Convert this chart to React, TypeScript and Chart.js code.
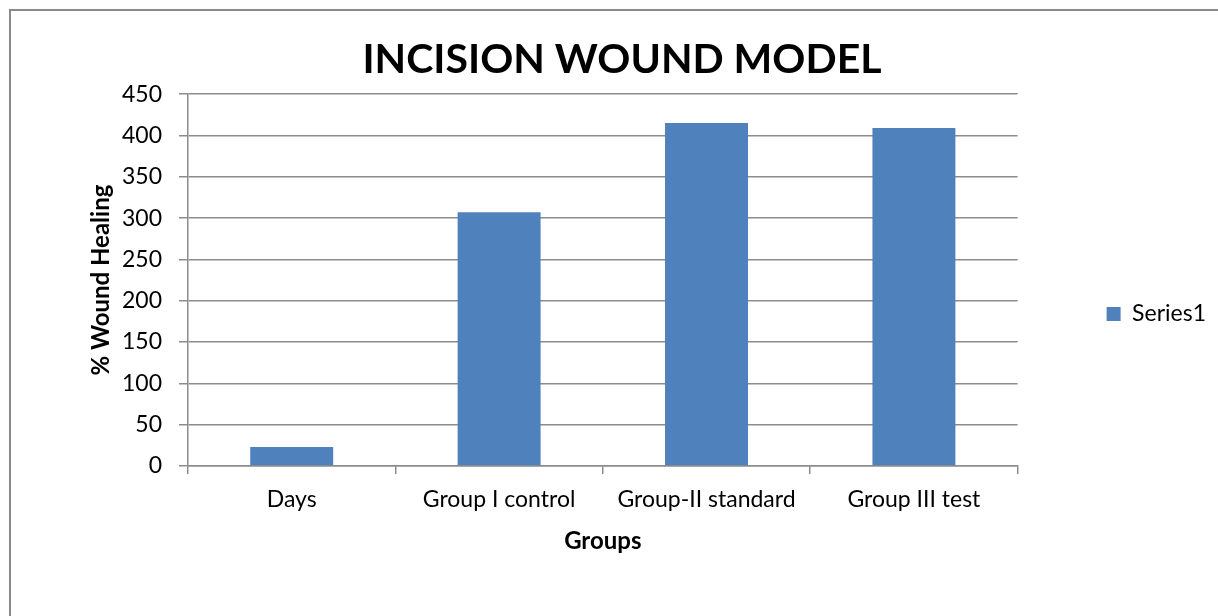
import React, { useEffect, useRef } from "react";
import { Chart, registerables } from "chart.js";

Chart.register(...registerables);

const categories = ["Days", "Group I control", "Group-II standard", "Group III test"];
const series1Values = [23, 307, 415, 409];
const seriesName = "Series1";
const chartTitle = "INCISION WOUND MODEL";
const xAxisTitle = "Groups";
const yAxisTitle = "% Wound Healing";
const yMin = 0;
const yMax = 450;
const yStep = 50;

const FONT = "Lato";
const GRID = "#8c8c8c";
const BAR = "#4F81BD";

export default function App() {
  const ref = useRef<HTMLCanvasElement | null>(null);

  useEffect(() => {
    if (!ref.current) return;
    const chart = new Chart(ref.current, {
      type: "bar",
      data: {
        labels: categories,
        datasets: [
          {
            label: seriesName,
            data: series1Values,
            backgroundColor: BAR,
            borderWidth: 0,
            barPercentage: 0.4,
            categoryPercentage: 1,
          },
        ],
      },
      options: {
        animation: false,
        responsive: false,
        devicePixelRatio: 1,
        layout: { padding: { left: 28, right: 2, top: 12, bottom: 0 } },
        plugins: {
          title: {
            display: true,
            text: chartTitle,
            color: "#000",
            font: { family: FONT, size: 41, weight: "bold", lineHeight: 1.2 },
            padding: { top: 23, bottom: 10 },
          },
          legend: {
            position: "right",
            labels: {
              boxWidth: 14,
              boxHeight: 14,
              padding: 89,
              color: "#000",
              font: { family: FONT, size: 23 },
            },
          },
          tooltip: { enabled: false },
        },
        scales: {
          x: {
            offset: true,
            grid: {
              offset: true,
              drawOnChartArea: false,
              drawTicks: true,
              tickLength: 8,
              color: GRID,
              lineWidth: 1.5,
            },
            border: { color: GRID, width: 1.5 },
            ticks: {
              color: "#000",
              font: { family: FONT, size: 23 },
              padding: 12,
              maxRotation: 0,
              autoSkip: false,
            },
            title: {
              display: true,
              text: xAxisTitle,
              color: "#000",
              font: { family: FONT, size: 24, weight: "bold" },
              padding: { top: 0, bottom: 60 },
            },
            afterFit: (s: any) => {
              s.height = 150;
            },
          },
          y: {
            min: yMin,
            max: yMax,
            ticks: {
              stepSize: yStep,
              padding: 17,
              color: "#000",
              font: { family: FONT, size: 23 },
            },
            grid: { color: GRID, lineWidth: 1.5, tickLength: 9 },
            border: { color: GRID, width: 1.5 },
            title: {
              display: true,
              text: yAxisTitle,
              color: "#000",
              font: { family: FONT, size: 24, weight: "bold" },
              padding: { top: 59, bottom: 0 },
            },
            afterFit: (s: any) => {
              s.width = 160;
            },
          },
        },
      },
    });
    return () => chart.destroy();
  }, []);

  return (
    <div
      style={{
        position: "fixed",
        left: 0,
        top: 0,
        width: 1218,
        height: 616,
        overflow: "hidden",
        background: "#fff",
      }}
    >
      <div
        style={{
          position: "absolute",
          left: 9,
          top: 9,
          width: 2000,
          height: 2000,
          borderLeft: "2px solid #8a8a8a",
          borderTop: "2px solid #8a8a8a",
        }}
      />
      <canvas
        ref={ref}
        width={1218}
        height={616}
        style={{ position: "absolute", left: 0, top: 0, width: 1218, height: 616 }}
      />
    </div>
  );
}
